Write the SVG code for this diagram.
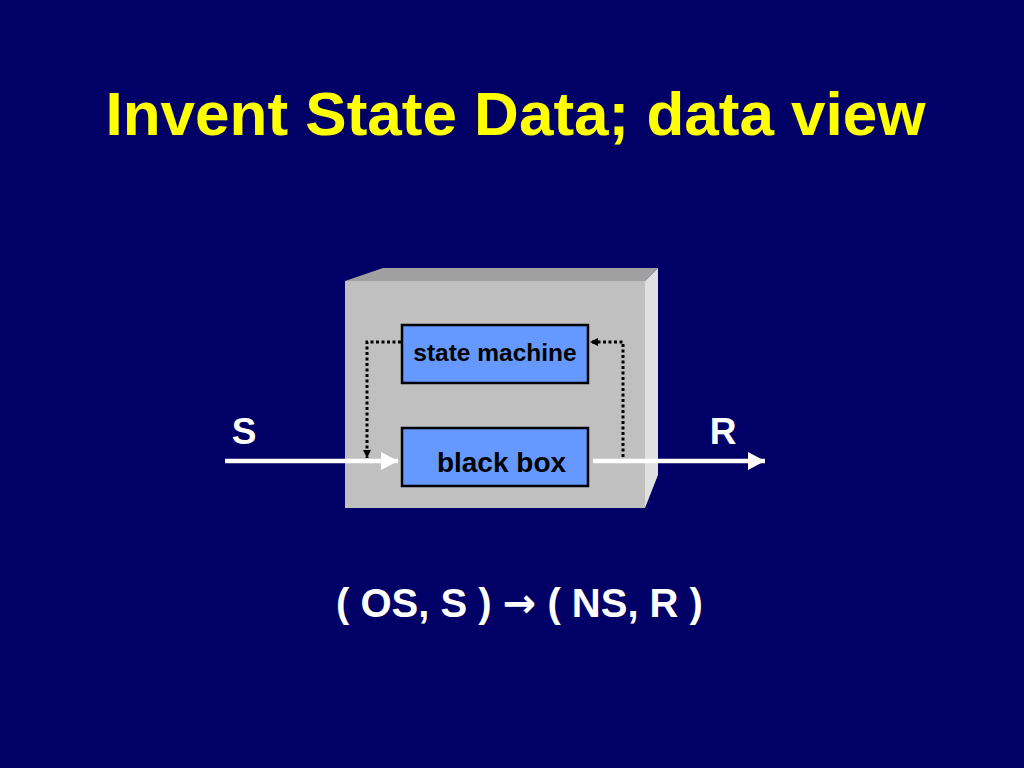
<svg xmlns="http://www.w3.org/2000/svg" width="1024" height="768" viewBox="0 0 1024 768">
<defs>
<style>
.t{font-family:"Liberation Sans",Arial,sans-serif;font-weight:bold}
.w{fill:#ffffff}
.nb{fill:#6699ff;stroke:#000000;stroke-width:2.5}
.dot{fill:none;stroke:#000000;stroke-width:3;stroke-dasharray:3 2.5}
.wl{stroke:#ffffff;stroke-width:4.5;fill:none}
</style>
<marker id="wa" markerUnits="userSpaceOnUse" markerWidth="20" markerHeight="18" refX="17" refY="9" orient="auto">
<path d="M0,0 L17,9 L0,18 Z" fill="#ffffff"/>
</marker>
<marker id="ka" markerUnits="userSpaceOnUse" markerWidth="10" markerHeight="10" refX="8" refY="5" orient="auto">
<path d="M0,1 L8,5 L0,9 Z" fill="#000000"/>
</marker>
</defs>
<rect width="1024" height="768" fill="#000066"/>
<text class="t" x="515.5" y="135" font-size="62" fill="#ffff00" text-anchor="middle">Invent State Data; data view</text>
<g id="container">
<polygon points="345,281 383,268 658,268 645,281" fill="#a0a0a0"/>
<polygon points="645,281 658,268 658,475 645,508" fill="#e0e0e0"/>
<rect x="345" y="281" width="300" height="227" fill="#c0c0c0"/>
</g>
<g id="connectors">
<polyline class="dot" points="401,342 367,342 367,458" marker-end="url(#ka)"/>
<polyline class="dot" points="623,457 623,342 590,342" marker-end="url(#ka)"/>
<line class="wl" x1="225" y1="461" x2="398" y2="461" marker-end="url(#wa)"/>
<line class="wl" x1="593" y1="461" x2="765" y2="461" marker-end="url(#wa)"/>
</g>
<g id="state-machine">
<rect class="nb" x="402" y="325" width="186" height="58"/>
<text class="t" x="495" y="361" font-size="24.5" fill="#000000" text-anchor="middle">state machine</text>
</g>
<g id="black-box">
<rect class="nb" x="402" y="428" width="186" height="58"/>
<text class="t" x="501.5" y="472" font-size="28" fill="#000000" text-anchor="middle">black box</text>
</g>
<text class="t w" x="244" y="444" font-size="37" text-anchor="middle">S</text>
<text class="t w" x="723" y="444" font-size="37" text-anchor="middle">R</text>
<text class="t w" x="519.5" y="617" font-size="40" text-anchor="middle">( OS, S ) <tspan font-family="DejaVu Sans,sans-serif">→</tspan> ( NS, R )</text>
</svg>
